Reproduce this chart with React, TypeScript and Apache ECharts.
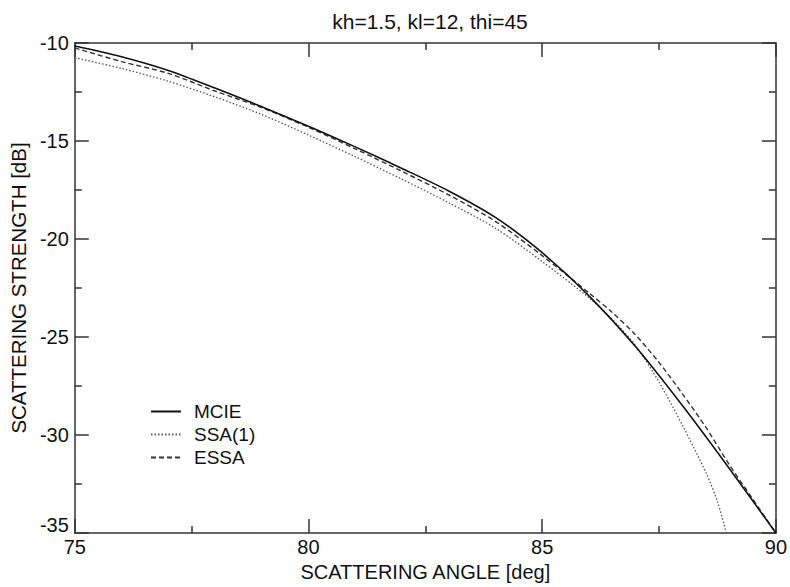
import React, { useEffect, useRef } from "react";
import * as echarts from "echarts";

const titleText = "kh=1.5, kl=12, thi=45";
const seriesNames = ["MCIE", "SSA(1)", "ESSA"];

const mcieX = [75, 76, 77, 78, 79, 80, 81, 82, 83, 84, 85, 86, 87, 88, 89, 90];
const mcieY = [-10.15, -10.7, -11.4, -12.3, -13.25, -14.25, -15.3, -16.4, -17.55, -18.9, -20.7, -22.9, -25.5, -28.5, -31.7, -35];

const ssaX = [75, 76, 77, 78, 79, 80, 81, 82, 83, 84, 85, 86, 86.5, 87, 87.5, 88, 88.5, 88.75, 88.94];
const ssaY = [-10.75, -11.3, -11.95, -12.75, -13.65, -14.7, -15.8, -16.95, -18.15, -19.45, -21.15, -23.0, -24.1, -25.45, -27.3, -29.5, -31.9, -33.4, -35];

const essaX = [75, 76, 77, 78, 79, 80, 81, 82, 83, 84, 85, 86, 86.5, 87, 87.5, 88, 88.5, 89, 89.5, 90];
const essaY = [-10.25, -10.95, -11.55, -12.45, -13.3, -14.3, -15.4, -16.55, -17.75, -19.1, -20.85, -22.75, -23.75, -24.9, -26.3, -27.9, -29.6, -31.5, -33.25, -35];

const xMin = 75;
const xMax = 90;
const xInterval = 5;
const yMin = -35;
const yMax = -10;
const yInterval = 5;

const pairs = (xs: number[], ys: number[]) => xs.map((x, i) => [x, ys[i]]);

const FONT = "Liberation Sans, Arial, sans-serif";
const AX = "#333";
const TXT = "#111";

export default function App() {
  const ref = useRef<HTMLDivElement>(null);
  useEffect(() => {
    document.body.style.margin = "0";
    const chart = echarts.init(ref.current!, null, { renderer: "svg" });
    const tickCommon = {
      axisLine: { show: true, lineStyle: { color: AX, width: 1.5 } },
      axisTick: { show: true, inside: true, length: 14, lineStyle: { color: AX, width: 1.5 } },
      minorTick: { show: true, splitNumber: 2, length: 7, lineStyle: { color: AX, width: 1.5 } },
      splitLine: { show: false },
    };
    const lineSeries = (name: string, xs: number[], ys: number[], color: string, width: number, type: any, z: number) => ({
      name,
      type: "line",
      xAxisIndex: 0,
      yAxisIndex: 0,
      data: pairs(xs, ys),
      symbol: "none",
      showSymbol: false,
      smooth: 0.3,
      lineStyle: { color, width, type },
      itemStyle: { color },
      z,
    });
    chart.setOption({
      animation: false,
      backgroundColor: "#fff",
      title: {
        text: titleText,
        left: 425,
        top: 6,
        textAlign: "center",
        textStyle: { fontFamily: FONT, fontSize: 21, fontWeight: "normal", color: TXT },
      },
      legend: {
        orient: "vertical",
        left: 150,
        top: 402,
        padding: 0,
        itemWidth: 30,
        itemHeight: 12,
        itemGap: 4,
        data: seriesNames,
        itemStyle: { opacity: 0 },
        textStyle: { fontFamily: FONT, fontSize: 19, color: TXT, padding: [0, 0, 0, 8] },
      },
      grid: { left: 73, right: 13, top: 43, bottom: 51, containLabel: false },
      xAxis: [
        {
          type: "value",
          position: "bottom",
          min: xMin,
          max: xMax,
          interval: xInterval,
          name: "SCATTERING ANGLE [deg]",
          nameLocation: "middle",
          nameGap: 29,
          nameTextStyle: { fontFamily: FONT, fontSize: 20, color: TXT },
          axisLabel: { fontFamily: FONT, fontSize: 20, color: TXT, margin: 4 },
          ...tickCommon,
        },
        {
          type: "value",
          position: "top",
          min: xMin,
          max: xMax,
          interval: xInterval,
          axisLabel: { show: false },
          ...tickCommon,
        },
      ],
      yAxis: [
        {
          type: "value",
          position: "left",
          min: yMin,
          max: yMax,
          interval: yInterval,
          name: "SCATTERING STRENGTH [dB]",
          nameLocation: "middle",
          nameGap: 40,
          nameTextStyle: { fontFamily: FONT, fontSize: 20.5, color: TXT },
          axisLabel: {
            fontFamily: FONT,
            fontSize: 20,
            color: TXT,
            margin: 6,
            formatter: (v: number) => (v === yMin ? "{low|" + v + "}" : String(v)),
            rich: { low: { fontFamily: FONT, fontSize: 20, color: TXT, padding: [0, 0, 16, 0] } },
          },
          ...tickCommon,
        },
        {
          type: "value",
          position: "right",
          min: yMin,
          max: yMax,
          interval: yInterval,
          axisLabel: { show: false },
          ...tickCommon,
        },
      ],
      series: [
        lineSeries(seriesNames[0], mcieX, mcieY, "#111", 1.6, "solid", 3),
        lineSeries(seriesNames[1], ssaX, ssaY, "#555", 1.3, [1.5, 2], 2),
        lineSeries(seriesNames[2], essaX, essaY, "#333", 1.4, [5, 3], 2),
      ],
    });
    return () => chart.dispose();
  }, []);
  return <div ref={ref} style={{ width: 790, height: 587 }} />;
}
